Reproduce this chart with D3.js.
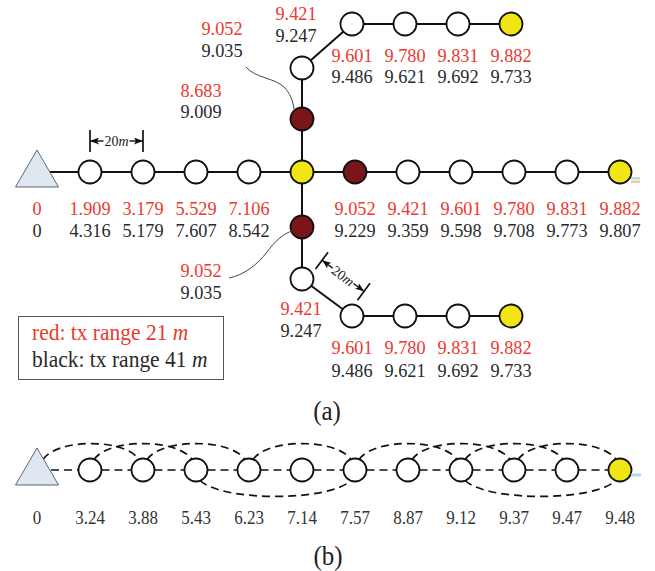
<!DOCTYPE html>
<html>
<head>
<meta charset="utf-8">
<script src="https://cdn.jsdelivr.net/npm/d3@7"></script>
<style>
  body { margin: 0; background: #fff; }
  svg { display: block; }
</style>
</head>
<body>
<svg id="chart" width="655" height="571"></svg>
<script>
// (a) delay per node: red = tx range 21 m, black = tx range 41 m
var mainRed = [0, 1.909, 3.179, 5.529, 7.106, 8.683, 9.052, 9.421, 9.601, 9.780, 9.831, 9.882];
var mainBlack = [0, 4.316, 5.179, 7.607, 8.542, 9.009, 9.229, 9.359, 9.598, 9.708, 9.773, 9.807];
var mainKinds = ["sink", "node", "node", "node", "node", "hub", "relay", "node", "node", "node", "node", "end"];

var branchRed = [9.052, 9.421, 9.601, 9.780, 9.831, 9.882];
var upperBlack = [9.035, 9.247, 9.486, 9.621, 9.692, 9.733];
var lowerBlack = [9.035, 9.247, 9.486, 9.621, 9.692, 9.733];
var branchKinds = ["relay", "node", "node", "node", "node", "end"];
var branchCols = [5, 5, 6, 7, 8, 9];

// (b) chain delays and the hops drawn as dashed arcs
var chainDelay = [0, 3.24, 3.88, 5.43, 6.23, 7.14, 7.57, 8.87, 9.12, 9.37, 9.47, 9.48];
var chainKinds = ["sink", "node", "node", "node", "node", "node", "node", "node", "node", "node", "node", "end"];
var topHops = [[0, 2], [1, 3], [2, 4], [4, 6], [6, 8], [7, 9], [8, 10], [9, 11]];
var bottomHops = [[3, 6], [8, 11]];

var svg = d3.select("#chart");
var r = 11.5;
var serif = "'Liberation Serif', 'Times New Roman', serif";
var redInk = "#ea3a2f", blackInk = "#2a2a2a";
var fills = { sink: "#dfe7f1", node: "#fff", hub: "#f2e514", end: "#f2e514", relay: "#7a1519" };

var x = d3.scaleLinear().domain([0, 11]).range([37, 620]);
var y = d3.scaleOrdinal()
  .domain(["top", "up2", "up1", "main", "dn1", "dn2", "bottom", "chain"])
  .range([24, 68, 119, 172, 227, 279, 316, 470]);

var upperRows = ["up1", "up2", "top", "top", "top", "top"];
var lowerRows = ["dn1", "dn2", "bottom", "bottom", "bottom", "bottom"];

function fmt(v, p) { return v === 0 ? "0" : d3.format("." + p + "f")(v); }

// build node lists
var mainNodes = mainRed.map(function (v, i) {
  return { x: x(i), y: y("main"), kind: mainKinds[i], red: v, black: mainBlack[i], i: i, group: "main" };
});
function branch(rows, blacks, group) {
  return branchRed.map(function (v, j) {
    var row = rows[j];
    var shift = (row === "top" || row === "bottom") ? -3 : 0;
    return { x: x(branchCols[j]) + shift, y: y(row), kind: branchKinds[j], red: v, black: blacks[j], i: j, group: group };
  });
}
var upperNodes = branch(upperRows, upperBlack, "upper");
var lowerNodes = branch(lowerRows, lowerBlack, "lower");
var hub = mainNodes[5];

// ---- (a) links
var links = [];
d3.pairs(mainNodes).forEach(function (p) { links.push(p); });
links.push([hub, upperNodes[0]]);
d3.pairs(upperNodes).forEach(function (p) { links.push(p); });
links.push([hub, lowerNodes[0]]);
d3.pairs(lowerNodes).forEach(function (p) { links.push(p); });

svg.append("g").selectAll("line").data(links).join("line")
  .attr("x1", function (d) { return d[0].x; }).attr("y1", function (d) { return d[0].y; })
  .attr("x2", function (d) { return d[1].x; }).attr("y2", function (d) { return d[1].y; })
  .attr("stroke", "#111").attr("stroke-width", 2);

function drawNodes(g, nodes) {
  nodes.forEach(function (d) {
    if (d.kind === "sink") {
      g.append("path")
        .attr("d", "M" + d.x + "," + (d.y - 22) + " L" + (d.x + 21.5) + "," + (d.y + 15) + " L" + (d.x - 21.5) + "," + (d.y + 15) + " Z")
        .attr("fill", fills.sink).attr("stroke", "#5d6773").attr("stroke-width", 1);
    } else {
      g.append("circle").attr("cx", d.x).attr("cy", d.y).attr("r", r)
        .attr("fill", fills[d.kind]).attr("stroke", "#111").attr("stroke-width", 1.8);
    }
  });
}
var nodeG = svg.append("g");
drawNodes(nodeG, mainNodes);
drawNodes(nodeG, upperNodes);
drawNodes(nodeG, lowerNodes);

// ---- (a) labels: offsets of the label centre and the two baselines
function place(d) {
  if (d.group === "main") {
    if (d.i === 5) return [-101, -75, -54];
    return [0, 43, 65];
  }
  if (d.group === "upper") {
    if (d.i === 0) return [-80, -84, -62];
    if (d.i === 1) return [-6, -48, -26];
    return [0, 38, 59];
  }
  if (d.i === 0) return [-101, 50, 72];
  if (d.i === 1) return [-1, 36, 58];
  return [0, 38, 61];
}
// the scanned figure is slightly stretched vertically, so the text is too
function stretched(g, tx, ty) {
  return g.append("text").attr("transform", "translate(" + tx + "," + ty + ") scale(1,1.08)");
}
var labelG = svg.append("g").attr("font-family", serif).attr("font-size", 18.3).attr("text-anchor", "middle");
mainNodes.concat(upperNodes, lowerNodes).forEach(function (d) {
  var o = place(d);
  stretched(labelG, d.x + o[0], d.y + o[1]).attr("fill", redInk).text(fmt(d.red, 3));
  stretched(labelG, d.x + o[0], d.y + o[2]).attr("fill", blackInk).text(fmt(d.black, 3));
});

// leader curves for the two relay labels
var up = upperNodes[0], dn = lowerNodes[0];
function rel(n, dx, dy) { return (n.x + dx) + "," + (n.y + dy); }
svg.append("path")
  .attr("d", "M" + rel(up, -56, -52) + " C" + rel(up, -47, -41) + " " + rel(up, -27, -41) + " " + rel(up, -18, -32) +
    " C" + rel(up, -12, -26) + " " + rel(up, -9, -18) + " " + rel(up, -8, -10))
  .attr("fill", "none").attr("stroke", "#444").attr("stroke-width", 1);
svg.append("path")
  .attr("d", "M" + rel(dn, -73, 51) + " C" + rel(dn, -58, 48) + " " + rel(dn, -45, 38) + " " + rel(dn, -35, 25) +
    " C" + rel(dn, -27, 14) + " " + rel(dn, -19, 7) + " " + rel(dn, -10, 4))
  .attr("fill", "none").attr("stroke", "#444").attr("stroke-width", 1);

// ---- 20 m dimension marks
svg.append("defs").append("marker")
  .attr("id", "arrow").attr("viewBox", "0 0 9 7").attr("refX", 9).attr("refY", 3.5)
  .attr("markerWidth", 9).attr("markerHeight", 7).attr("markerUnits", "userSpaceOnUse")
  .attr("orient", "auto-start-reverse")
  .append("path").attr("d", "M0,0 L9,3.5 L0,7 L2,3.5 Z").attr("fill", "#111");

function dimension(p1, p2, d0, d1, da) {
  var dx = p2[0] - p1[0], dy = p2[1] - p1[1], len = Math.hypot(dx, dy);
  var u = [dx / len, dy / len], n = [u[1], -u[0]];
  function at(p, d, s) { return [p[0] + n[0] * d + u[0] * (s || 0), p[1] + n[1] * d + u[1] * (s || 0)]; }
  var g = svg.append("g");
  [p1, p2].forEach(function (p) {
    var a = at(p, d0), b = at(p, d1);
    g.append("line").attr("x1", a[0]).attr("y1", a[1]).attr("x2", b[0]).attr("y2", b[1])
      .attr("stroke", "#111").attr("stroke-width", 1.7);
  });
  var a1 = at(p1, da), a2 = at(p2, da);
  var mid = [(a1[0] + a2[0]) / 2, (a1[1] + a2[1]) / 2];
  var gap = 13;
  g.append("line").attr("x1", mid[0] - u[0] * gap).attr("y1", mid[1] - u[1] * gap)
    .attr("x2", a1[0]).attr("y2", a1[1]).attr("stroke", "#111").attr("stroke-width", 1.4)
    .attr("marker-end", "url(#arrow)");
  g.append("line").attr("x1", mid[0] + u[0] * gap).attr("y1", mid[1] + u[1] * gap)
    .attr("x2", a2[0]).attr("y2", a2[1]).attr("stroke", "#111").attr("stroke-width", 1.4)
    .attr("marker-end", "url(#arrow)");
  var ang = Math.atan2(u[1], u[0]) * 180 / Math.PI;
  var t = g.append("text").attr("transform", "translate(" + mid[0] + "," + mid[1] + ") rotate(" + ang + ")")
    .attr("text-anchor", "middle").attr("dy", "0.35em")
    .attr("font-family", serif).attr("font-size", 14).attr("fill", "#222");
  t.append("tspan").text("20");
  t.append("tspan").attr("font-style", "italic").text("m");
}
dimension([mainNodes[1].x, mainNodes[1].y], [mainNodes[2].x, mainNodes[2].y], 20, 42, 31);
(function () {
  var A = lowerNodes[1], B = lowerNodes[2];
  var dx = B.x - A.x, dy = B.y - A.y, len = Math.hypot(dx, dy), ux = dx / len, uy = dy / len;
  dimension([A.x + ux * 5, A.y + uy * 5], [B.x - ux * 5, B.y - uy * 5], 16, 37, 27);
})();

// stray colour marks at the right edge of the scan
[[178, "#8fd3ee"], [180, "#f5e98a"], [182, "#f4a9c8"]].forEach(function (s) {
  svg.append("line").attr("x1", 631).attr("x2", 640).attr("y1", s[0]).attr("y2", s[0])
    .attr("stroke", s[1]).attr("stroke-width", 1.5);
});

// legend
var lg = svg.append("g").attr("font-family", serif).attr("font-size", 21.5);
lg.append("rect").attr("x", 18.5).attr("y", 316.5).attr("width", 205).attr("height", 63)
  .attr("fill", "none").attr("stroke", "#555").attr("stroke-width", 1);
var t1 = stretched(lg, 32, 340).attr("fill", redInk);
t1.append("tspan").text("red: tx range 21 ");
t1.append("tspan").attr("font-style", "italic").text("m");
var t2 = stretched(lg, 32, 367).attr("fill", blackInk);
t2.append("tspan").text("black: tx range 41 ");
t2.append("tspan").attr("font-style", "italic").text("m");

stretched(svg, 327, 420).attr("text-anchor", "middle")
  .attr("font-family", serif).attr("font-size", 25).attr("fill", "#222").text("(a)");

// ---- (b) chain
var yb = y("chain");
var chainNodes = chainDelay.map(function (v, i) {
  return { x: x(i), y: yb, kind: chainKinds[i], v: v, i: i };
});
var bg = svg.append("g");
d3.pairs(chainNodes).forEach(function (p) {
  bg.append("line").attr("x1", p[0].x + (p[0].kind === "sink" ? 14 : r)).attr("x2", p[1].x - r)
    .attr("y1", yb).attr("y2", yb)
    .attr("stroke", "#111").attr("stroke-width", 1.7).attr("stroke-dasharray", "8,5");
});
function hopArc(x1, x2, y0, h) {
  var L = x2 - x1, cy = y0 - 1.33 * h;
  return "M" + x1 + "," + y0 + " C" + (x1 + 0.15 * L) + "," + cy + " " + (x2 - 0.15 * L) + "," + cy + " " + x2 + "," + y0;
}
topHops.forEach(function (h) {
  var a = chainNodes[h[0]], b = chainNodes[h[1]];
  var x1 = a.kind === "sink" ? a.x + 6 : a.x + 4;
  bg.append("path").attr("d", hopArc(x1, b.x - 4, yb - r + 1, 16))
    .attr("fill", "none").attr("stroke", "#111").attr("stroke-width", 1.7).attr("stroke-dasharray", "8,5");
});
bottomHops.forEach(function (h) {
  var a = chainNodes[h[0]], b = chainNodes[h[1]];
  bg.append("path").attr("d", hopArc(a.x + 4, b.x - 4, yb + r - 1, -16))
    .attr("fill", "none").attr("stroke", "#111").attr("stroke-width", 1.7).attr("stroke-dasharray", "8,5");
});
drawNodes(svg.append("g"), chainNodes);

var chainLabels = svg.append("g").attr("font-family", serif).attr("font-size", 17).attr("fill", "#333").attr("text-anchor", "middle");
chainNodes.forEach(function (d) {
  stretched(chainLabels, d.x, yb + 54).text(fmt(d.v, 2));
});

svg.append("line").attr("x1", 631).attr("x2", 641).attr("y1", yb + 5).attr("y2", yb + 5)
  .attr("stroke", "#a9dcf0").attr("stroke-width", 3);

stretched(svg, 328, 565).attr("text-anchor", "middle")
  .attr("font-family", serif).attr("font-size", 25).attr("fill", "#222").text("(b)");
</script>
</body>
</html>
